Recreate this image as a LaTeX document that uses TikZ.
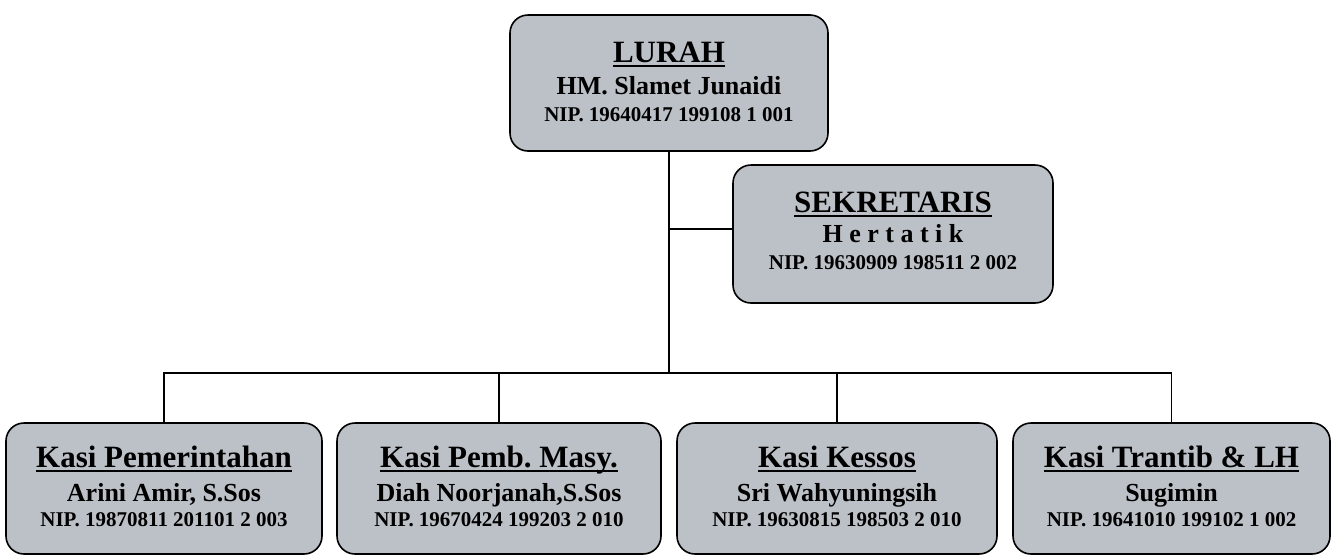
\documentclass[tikz,border=0pt]{standalone}
\usepackage{fontspec}
\setmainfont{Liberation Serif}
\frenchspacing
\definecolor{boxgray}{RGB}{188,193,199}
\newcommand\myul[1]{\setbox0\hbox{#1}\rlap{\rule[-4.5pt]{\wd0}{2.2pt}}\box0}
\tikzset{
  obox/.style={draw=black, line width=1.6pt, fill=boxgray, rounded corners=18pt, inner sep=0pt},
  ttl/.style={anchor=base, inner sep=0pt, font=\bfseries\fontsize{31}{36}\selectfont},
  pers/.style={anchor=base, inner sep=0pt, font=\bfseries\fontsize{26}{30}\selectfont},
  nip/.style={anchor=base, inner sep=0pt, font=\bfseries\fontsize{21}{25}\selectfont},
  conn/.style={draw=black, line width=1.4pt}
}
% #1 name, #2 left, #3 top, #4 right, #5 bottom, #6 title, #7 person, #8 nip, #9 baseline offsets a/b/c
\newcommand\orgunit[9]{%
  \node[obox, minimum width={#4-#2}, minimum height={#5-#3}] (#1) at ({(#2+#4)/2},{(#3+#5)/2}) {};
  \foreach \oa/\ob/\oc in {#9}{%
    \node[ttl] (#1-t) at ([yshift=-\oa pt]#1.north) {\frenchspacing\myul{#6}};
    \node[pers] (#1-p) at ([yshift=-\ob pt]#1.north) {\frenchspacing #7};
    \node[nip] (#1-n) at ([yshift=-\oc pt]#1.north) {\frenchspacing #8};
  }%
}
\begin{document}
\begin{tikzpicture}[x=1pt,y=-1pt]
\useasboundingbox (0,0) rectangle (1332,555);
\orgunit{lurah}{510}{15}{828}{151}{LURAH}{HM. Slamet Junaidi}{NIP. 19640417 199108 1 001}{48/80/107}
\orgunit{sek}{733}{165}{1053}{303}{SEKRETARIS}{H e r t a t i k}{NIP. 19630909 198511 2 002}{48/78/105}
\orgunit{k1}{6}{423}{322}{554}{Kasi Pemerintahan}{Arini Amir, S.Sos}{NIP. 19870811 201101 2 003}{45/79/104}
\orgunit{k2}{337}{423}{661}{554}{Kasi Pemb. Masy.}{Diah Noorjanah,S.Sos}{NIP. 19670424 199203 2 010}{45/79/104}
\orgunit{k3}{677}{423}{997}{554}{Kasi Kessos}{Sri Wahyuningsih}{NIP. 19630815 198503 2 010}{45/79/104}
\orgunit{k4}{1013}{423}{1330}{554}{Kasi Trantib \& LH}{Sugimin}{NIP. 19641010 199102 1 002}{45/79/104}
\coordinate (busy) at (0,373);
\coordinate (seky) at (0,229);
\draw[conn] (lurah.south) -- (lurah.south |- busy);
\draw[conn] (lurah.south |- seky) -- (sek.west |- seky);
\draw[conn] (k1.north) -- (k1.north |- busy) -- (k4.north |- busy) -- (k4.north);
\draw[conn] (k2.north) -- (k2.north |- busy);
\draw[conn] (k3.north) -- (k3.north |- busy);
\end{tikzpicture}
\end{document}
